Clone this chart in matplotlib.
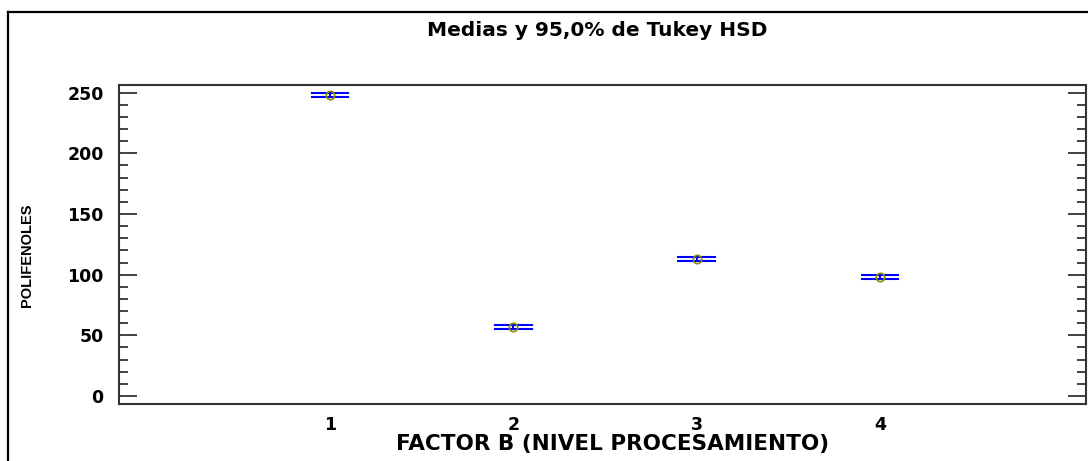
import matplotlib
matplotlib.use("Agg")
import matplotlib.pyplot as plt
from matplotlib.lines import Line2D
from matplotlib.ticker import MultipleLocator

# data
niveles = [1, 2, 3, 4]
medias = [248.3, 56.9, 112.9, 98.2]
semi_intervalo = [1.8, 1.4, 1.3, 1.4]
yticks = [0, 50, 100, 150, 200, 250]

W, H = 1088, 461
fig = plt.figure(figsize=(W / 100, H / 100), dpi=100)
ax = fig.add_axes([119 / W, (H - 403.7) / H, (1086 - 119) / W, (403.7 - 84.7) / H])

azul = '#0000ff'
for x, m, h in zip(niveles, medias, semi_intervalo):
    ax.plot([x - 0.1, x + 0.1], [m + h, m + h], color=azul, lw=1.5)
    ax.plot([x - 0.1, x + 0.1], [m - h, m - h], color=azul, lw=1.5)
    ax.plot([x, x], [m - h, m + h], color=azul, lw=1.5)
ax.plot(niveles, medias, 'o', ms=6, mfc='none', mec='#8c8c00', mew=1.2)

ax.set_xlim(-0.151, 5.124)
ax.set_ylim(-6.4, 256.6)
ax.set_xticks(niveles)
ax.set_yticks(yticks)
ax.yaxis.set_minor_locator(MultipleLocator(10))
ax.tick_params(axis='x', length=0, pad=9, labelsize=12.5)
ax.tick_params(axis='y', which='major', direction='in', length=13, width=1.3,
               color='#333333', right=True, pad=11, labelsize=12.5)
ax.tick_params(axis='y', which='minor', direction='in', length=6.3, width=1.3,
               color='#333333', right=True)
for lab in ax.get_xticklabels() + ax.get_yticklabels():
    lab.set_fontweight('bold')
    lab.set_family('DejaVu Sans')
for s in ax.spines.values():
    s.set_linewidth(1.5)
    s.set_color('#333333')

fig.text(597 / W, 1 - 30 / H, 'Medias y 95,0% de Tukey HSD', ha='center', va='center',
         fontsize=14.5, fontweight='bold', family='DejaVu Sans')
fig.text(613 / W, 1 - 444 / H, 'FACTOR B (NIVEL PROCESAMIENTO)', ha='center', va='center',
         fontsize=15.5, fontweight='bold', family='DejaVu Sans')
fig.text(27 / W, 1 - 255 / H, 'POLIFENOLES', ha='center', va='center', rotation=90,
         fontsize=10.5, fontweight='bold', family='Liberation Sans')

# outer frame (left and top edges only visible)
fig.add_artist(Line2D([8 / W, 8 / W], [0, 1 - 12 / H], color='black', lw=1.6))
fig.add_artist(Line2D([8 / W, 1], [1 - 12 / H, 1 - 12 / H], color='black', lw=1.6))

fig.savefig('out.png', dpi=100)
